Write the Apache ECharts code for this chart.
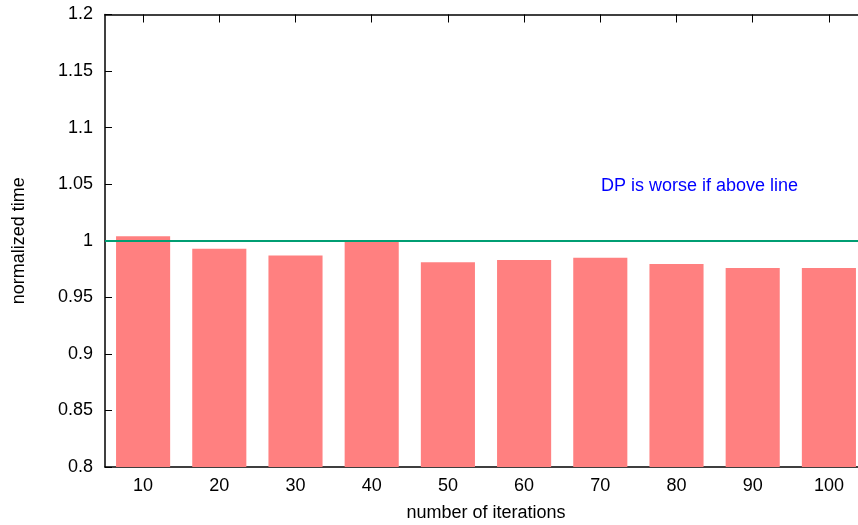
<!DOCTYPE html>
<html>
<head>
<meta charset="utf-8">
<script src="https://cdn.jsdelivr.net/npm/echarts@6/dist/echarts.min.js"></script>
<style>html,body{margin:0;padding:0;background:#fff}#c{width:858px;height:525px}</style>
</head>
<body>
<div id="c"></div>
<script>
const categories = ['10','20','30','40','50','60','70','80','90','100'];
const normalizedTime = [1.004, 0.993, 0.987, 0.9995, 0.981, 0.983, 0.985, 0.9795, 0.976, 0.976];
const referenceLevel = 1;
const yMin = 0.8, yMax = 1.2, yStep = 0.05;
const FONT = 'Liberation Sans, Arial, sans-serif';

const chart = echarts.init(document.getElementById('c'), null, {renderer: 'canvas'});
chart.setOption({
  animation: false,
  backgroundColor: '#fff',
  textStyle: {fontFamily: FONT},
  grid: {left: 105, right: -9, top: 14.5, bottom: 58, containLabel: false, outerBoundsMode: 'none'},
  xAxis: [{
    type: 'category',
    data: categories,
    name: 'number of iterations',
    nameLocation: 'middle',
    nameGap: 37,
    nameTextStyle: {fontSize: 18, color: '#000', fontFamily: FONT},
    axisLine: {show: true, lineStyle: {color: '#000', width: 1.5}},
    axisTick: {show: true, inside: true, alignWithLabel: true, length: 8, lineStyle: {color: '#000'}},
    axisLabel: {fontSize: 18, color: '#000', margin: 10, fontFamily: FONT},
    splitLine: {show: false}
  }, {
    type: 'category',
    data: categories,
    position: 'top',
    axisLine: {show: true, lineStyle: {color: '#000', width: 1.5}},
    axisTick: {show: true, inside: true, alignWithLabel: true, length: 8, lineStyle: {color: '#000'}},
    axisLabel: {show: false},
    splitLine: {show: false}
  }],
  yAxis: {
    type: 'value',
    min: yMin, max: yMax, interval: yStep,
    name: 'normalized time',
    nameLocation: 'middle',
    nameGap: 77,
    nameTextStyle: {fontSize: 18, color: '#000', fontFamily: FONT},
    axisLine: {show: true, lineStyle: {color: '#000', width: 1.5}},
    axisTick: {show: true, inside: true, length: 7, lineStyle: {color: '#000'}},
    axisLabel: {fontSize: 18, color: '#000', margin: 12, fontFamily: FONT},
    splitLine: {show: false}
  },
  graphic: [{
    type: 'text',
    left: 601, top: 177,
    style: {text: 'DP is worse if above line', fill: '#0000ff', font: '18px ' + FONT}
  }],
  series: [{
    type: 'bar',
    data: normalizedTime,
    barWidth: '71%',
    itemStyle: {color: '#ff8080'},
    markLine: {
      silent: true,
      symbol: 'none',
      label: {show: false},
      lineStyle: {color: '#009e73', width: 2, type: 'solid'},
      data: [{yAxis: referenceLevel}]
    }
  }]
});
</script>
</body>
</html>
